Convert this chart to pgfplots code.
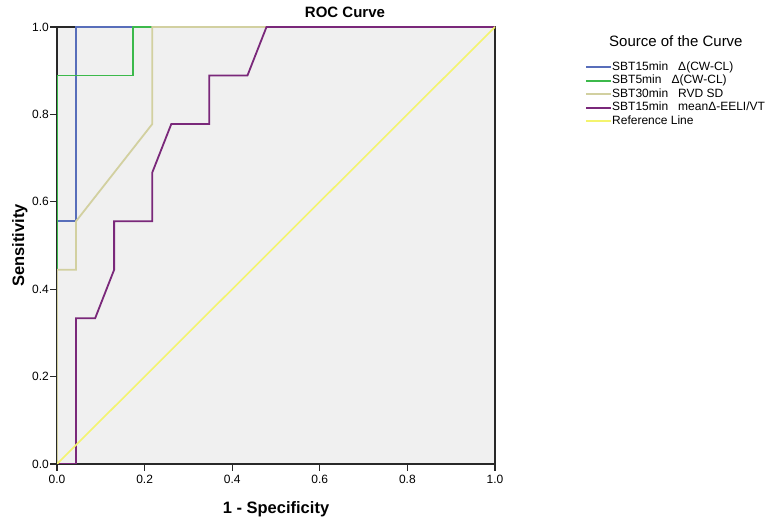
\documentclass[border=0pt]{standalone}
\usepackage{pgfplots}
\pgfplotsset{compat=1.18}
\usepackage{fontspec}
\setmainfont{Liberation Sans}
\definecolor{rocBlue}{RGB}{88,110,186}
\definecolor{rocGreen}{RGB}{60,185,75}
\definecolor{rocBeige}{RGB}{210,208,160}
\definecolor{rocPurple}{RGB}{122,40,122}
\definecolor{rocYellow}{RGB}{244,244,110}
\definecolor{rocBg}{RGB}{240,240,240}
\definecolor{rocFrame}{RGB}{40,40,40}
\begin{document}
\begin{tikzpicture}[x=1bp,y=1bp]
\useasboundingbox (0,0) rectangle (765,521);
\begin{axis}[
  at={(57bp,57bp)}, anchor=south west,
  width=438bp, height=437bp, scale only axis,
  xmin=0, xmax=1, ymin=0, ymax=1,
  xtick={0,0.2,0.4,0.6,0.8,1}, ytick={0,0.2,0.4,0.6,0.8,1},
  tick pos=left, tick align=outside, major tick length=7bp,
  tick style={rocFrame, line width=1.2bp},
  axis line style={rocFrame, line width=1.2bp},
  axis background/.style={fill=rocBg},
  axis on top=false,
  /pgf/number format/assume math mode=true,
  /pgf/number format/fixed, /pgf/number format/fixed zerofill, /pgf/number format/precision=1,
  ticklabel style={font=\fontsize{12bp}{14bp}\selectfont},
  yticklabel style={inner sep=1bp},
  xticklabel style={inner sep=4bp},
  xlabel={1 - Specificity},
  xlabel style={at={(axis description cs:0.5,-0.1144)}, anchor=base, inner sep=0pt, font=\bfseries\fontsize{16.5bp}{19bp}\selectfont},
  ylabel={Sensitivity},
  ylabel style={at={(axis description cs:-0.0753,0.5)}, anchor=base, inner sep=0pt, font=\bfseries\fontsize{16.5bp}{19bp}\selectfont},
  legend style={at={(axis description cs:1.2055,0.9215)}, anchor=north west, draw=none, fill=none,
    font=\fontsize{12bp}{14bp}\selectfont, inner sep=0pt, row sep=1.4bp,
    nodes={inner sep=0bp, text height=9bp, text depth=3bp}},
  legend cell align=left,
  legend image code/.code={\draw[#1, line width=2bp] (0bp,0bp) -- (25bp,0bp);},
]
\addplot[draw=rocBlue, line width=1.8bp, line join=miter] coordinates {(0,0) (0,0.5556) (0.0435,0.5556) (0.0435,1) (1,1)};
\addplot[draw=rocGreen, line width=1.8bp, line join=miter] coordinates {(0,0) (0,0.8889) (0.1739,0.8889) (0.1739,1) (1,1)};
\addplot[draw=rocBeige, line width=1.8bp, line join=miter] coordinates {(0,0) (0,0.4444) (0.0435,0.4444) (0.0435,0.5556) (0.2174,0.7778) (0.2174,1) (1,1)};
\addplot[draw=rocPurple, line width=1.8bp, line join=miter] coordinates {(0,0) (0.0435,0) (0.0435,0.3333) (0.0870,0.3333) (0.1304,0.4444) (0.1304,0.5556) (0.2174,0.5556) (0.2174,0.6667) (0.2609,0.7778) (0.3478,0.7778) (0.3478,0.8889) (0.4348,0.8889) (0.4783,1) (1,1)};
\addplot[draw=rocYellow, line width=1.6bp] coordinates {(0,0) (1,1)};
\legend{SBT15min\ \ \ Δ(CW-CL), SBT5min\ \ \ Δ(CW-CL), SBT30min\ \ \ RVD SD, SBT15min\ \ \ meanΔ-EELI/VT, Reference Line}
\end{axis}
\node[anchor=base, inner sep=0pt, font=\bfseries\fontsize{15bp}{18bp}\selectfont] at (345,503) {ROC Curve};
\node[anchor=base west, inner sep=0pt, font=\fontsize{15bp}{18bp}\selectfont] at (609,474.3) {Source of the Curve};
\end{tikzpicture}
\end{document}
